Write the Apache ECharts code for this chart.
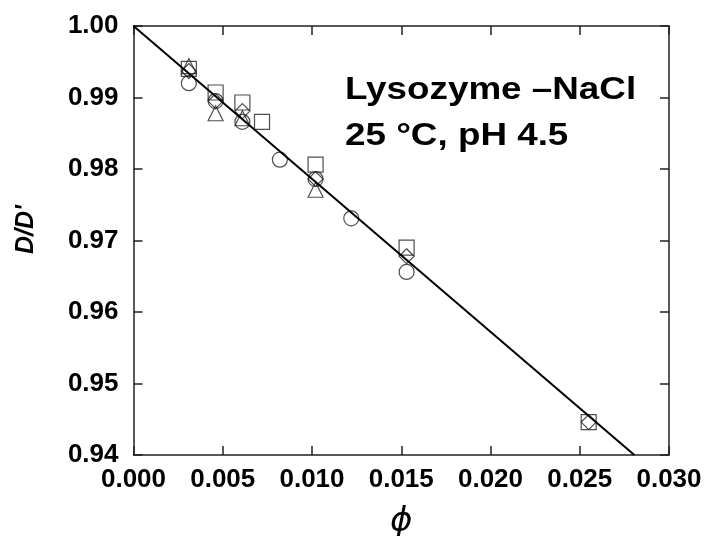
<!DOCTYPE html>
<html>
<head>
<meta charset="utf-8">
<script src="https://cdn.jsdelivr.net/npm/echarts@6/dist/echarts.min.js"></script>
<style>html,body{margin:0;padding:0;background:#fff}#c{width:708px;height:536px}</style>
</head>
<body>
<div id="c"></div>
<script>
// Data (phi, D/D')
const circles   = [[0.0031,0.9920],[0.0046,0.9895],[0.0061,0.9866],[0.0082,0.9813],[0.0102,0.9786],[0.0122,0.9731],[0.0153,0.9656]];
const squares   = [[0.0031,0.9940],[0.0046,0.9907],[0.0061,0.9893],[0.0072,0.9866],[0.0102,0.9806],[0.0153,0.9690],[0.0255,0.9446]];
const triangles = [[0.0031,0.9944],[0.0046,0.9878],[0.0061,0.9871],[0.0102,0.9771]];
const diamonds  = [[0.0031,0.9937],[0.0046,0.9895],[0.0061,0.9881],[0.0102,0.9786],[0.0153,0.9678],[0.0255,0.9446]];
const fitLine   = [[0.0,1.0],[0.02806,0.94]];
const xTicks = [0.000,0.005,0.010,0.015,0.020,0.025,0.030];
const yTicks = [0.94,0.95,0.96,0.97,0.98,0.99,1.00];
const annotationLines = ['Lysozyme \u2013NaCl','25 \u00b0C, pH 4.5'];
const xName = '\u03d5';
const yName = "D/D'";

const FONT = 'Liberation Sans, Arial, sans-serif';
const axisLineStyle = {color:'#222', width:1.5};
const chart = echarts.init(document.getElementById('c'), null, {renderer:'canvas'});

function scatter(name, data, symbol, size){
  return {name, type:'scatter', data, symbol, symbolSize:size, xAxisIndex:0, yAxisIndex:0,
    itemStyle:{color:'rgba(0,0,0,0)', borderColor:'#222', borderWidth:1.2}, z:3};
}

chart.setOption({
  animation:false,
  backgroundColor:'#fff',
  grid:{left:133.5, right:39, top:26, bottom:81, containLabel:false, outerBoundsMode:'none'},
  xAxis:[{
    type:'value', min:xTicks[0], max:xTicks[xTicks.length-1], interval:0.005,
    name:xName, nameLocation:'middle', nameGap:50,
    nameTextStyle:{fontFamily:'DejaVu Sans', fontStyle:'italic', fontSize:34, color:'#000'},
    axisLine:{show:true, onZero:false, lineStyle:axisLineStyle},
    axisTick:{show:true, inside:true, length:9, lineStyle:axisLineStyle},
    axisLabel:{fontFamily:FONT, fontWeight:'bold', fontSize:26, color:'#000', margin:12,
      formatter:v=>v.toFixed(3)},
    splitLine:{show:false}
  },{
    type:'value', position:'top', min:xTicks[0], max:xTicks[xTicks.length-1], interval:0.005,
    axisLine:{show:true, onZero:false, lineStyle:axisLineStyle},
    axisTick:{show:true, inside:true, length:9, lineStyle:axisLineStyle},
    axisLabel:{show:false}, splitLine:{show:false}
  }],
  yAxis:[{
    type:'value', min:yTicks[0], max:yTicks[yTicks.length-1], interval:0.01,
    name:yName, nameLocation:'middle', nameGap:95, nameRotate:90,
    nameTextStyle:{fontFamily:FONT, fontStyle:'italic', fontWeight:'bold', fontSize:25, color:'#000', padding:[0,0,0,22]},
    axisLine:{show:true, onZero:false, lineStyle:axisLineStyle},
    axisTick:{show:true, inside:true, length:9, lineStyle:axisLineStyle},
    axisLabel:{fontFamily:FONT, fontWeight:'bold', fontSize:26, color:'#000', margin:15,
      formatter:v=>v.toFixed(2)},
    splitLine:{show:false}
  },{
    type:'value', position:'right', min:yTicks[0], max:yTicks[yTicks.length-1], interval:0.01,
    axisLine:{show:true, onZero:false, lineStyle:axisLineStyle},
    axisTick:{show:true, inside:true, length:9, lineStyle:axisLineStyle},
    axisLabel:{show:false}, splitLine:{show:false}
  }],
  series:[
    {type:'line', data:fitLine, showSymbol:false, symbol:'none', lineStyle:{color:'#000', width:2}, z:4, silent:true, clip:true},
    scatter('circle', circles, 'circle', 15),
    scatter('square', squares, 'rect', 15),
    scatter('triangle', triangles, 'triangle', 15),
    scatter('diamond', diamonds, 'diamond', 15)
  ],
  graphic:[{
    type:'text', x:345, y:67, scaleX:1.15, z:10,
    style:{text:annotationLines.join('\n'), font:'bold 32px '+FONT, fill:'#000', lineHeight:46}
  }]
});
</script>
</body>
</html>
